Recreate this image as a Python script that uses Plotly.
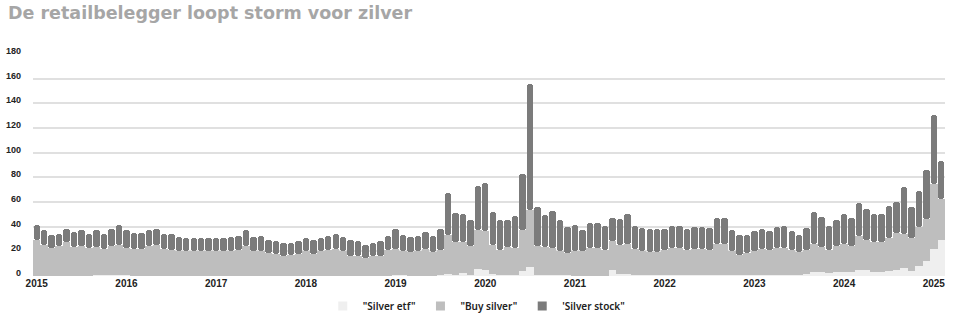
import numpy as np
import pandas as pd
import plotly.graph_objects as go

# Months Jan 2015 .. Feb 2025
months = pd.date_range("2015-01-01", periods=122, freq="MS")
year_labels = ["2015", "2016", "2017", "2018", "2019", "2020", "2021", "2022", "2023", "2024", "2025"]
y_ticks = [0, 20, 40, 60, 80, 100, 120, 140, 160, 180]

silver_etf = [0.3, 0.3, 0.3, 0.3, 0.3, 0.3, 0.3, 0.3, 0.5, 0.8, 0.5, 0.8,
              0.5, 0.3, 0.3, 0.3, 0.3, 0.3, 0.3, 0.3, 0.3, 0.3, 0.3, 0.3,
              0.3, 0.3, 0.3, 0.3, 0.3, 0.3, 0.3, 0.3, 0.3, 0.3, 0.3, 0.3,
              0.3, 0.3, 0.3, 0.3, 0.3, 0.3, 0.3, 0.3, 0.3, 0.3, 0.3, 0.3,
              1.0, 0.5, 0.3, 0.3, 0.3, 0.3, 0.5, 2.0, 1.0, 2.4, 1.0, 5.8,
              4.5, 1.6, 0.5, 0.5, 0.5, 3.8, 7.0, 1.0, 0.5, 1.0, 0.5, 0.5,
              0.3, 0.3, 0.3, 0.3, 0.3, 5.2, 2.0, 2.0, 0.5, 0.5, 0.5, 0.5,
              1.0, 0.5, 0.5, 0.5, 0.5, 0.5, 0.5, 0.8, 0.8, 0.5, 0.5, 0.5,
              0.5, 0.5, 0.8, 0.8, 0.5, 0.5, 0.5, 1.5, 3.5, 3.0, 2.5, 3.5,
              3.5, 3.5, 4.8, 4.5, 3.2, 3.2, 4.0, 5.0, 6.4, 3.7, 8.0, 11.8,
              21.9, 28.9]

buy_silver = [28.7, 25.2, 22.7, 23.7, 27.2, 23.2, 23.7, 22.7, 23.0, 20.7, 23.5, 24.7,
              22.5, 21.7, 21.7, 23.7, 25.2, 21.2, 20.7, 19.7, 19.7, 19.7, 19.7, 19.7,
              19.7, 19.7, 19.7, 20.7, 24.2, 19.7, 19.7, 18.4, 17.7, 16.2, 16.4, 17.7,
              19.7, 17.9, 19.7, 21.1, 21.7, 19.7, 16.2, 16.2, 14.3, 16.2, 16.2, 21.1,
              20.9, 19.5, 18.9, 19.7, 21.9, 18.9, 20.9, 31.5, 26.4, 25.0, 23.1, 31.8,
              31.8, 23.4, 20.9, 22.8, 22.3, 33.8, 46.8, 23.2, 22.8, 21.8, 19.6, 18.2,
              19.8, 19.8, 22.5, 22.5, 21.1, 23.3, 23.1, 23.6, 21.3, 19.5, 19.0, 19.0,
              20.4, 22.3, 22.3, 20.9, 21.5, 21.5, 20.9, 24.8, 24.8, 19.5, 16.8, 18.2,
              19.5, 21.5, 20.6, 22.2, 22.3, 20.5, 18.9, 19.5, 22.1, 20.4, 18.5, 20.6,
              22.1, 20.6, 27.4, 25.0, 24.1, 24.1, 26.8, 29.8, 27.9, 27.3, 32.0, 34.3,
              53.1, 33.6]

silver_stock = [12.5, 11.5, 10.0, 10.0, 10.5, 12.5, 13.0, 11.0, 13.5, 12.5, 14.0, 15.5,
                14.0, 13.0, 13.0, 13.0, 12.5, 12.5, 13.0, 11.5, 11.0, 11.0, 11.0, 11.0,
                11.0, 11.0, 12.0, 11.5, 12.5, 12.0, 12.5, 10.8, 10.7, 10.3, 10.1, 10.2,
                10.8, 10.8, 10.8, 11.3, 12.0, 11.6, 13.0, 11.7, 10.4, 10.3, 11.7, 11.2,
                16.4, 13.6, 12.4, 12.6, 13.4, 13.4, 16.9, 33.8, 23.6, 23.1, 21.5, 35.4,
                39.2, 26.9, 23.7, 21.8, 25.5, 45.3, 102.0, 31.4, 25.9, 30.2, 25.0, 20.9,
                21.2, 16.9, 20.5, 20.5, 18.9, 18.9, 21.4, 24.4, 18.5, 19.0, 18.7, 18.7,
                16.8, 18.1, 18.1, 16.8, 17.7, 17.7, 17.6, 21.4, 21.4, 17.6, 16.3, 14.9,
                16.3, 16.2, 15.4, 16.7, 18.1, 15.8, 14.2, 17.9, 26.0, 24.4, 19.8, 21.0,
                24.4, 22.9, 26.9, 24.8, 23.0, 23.0, 26.2, 24.8, 37.7, 24.9, 28.6, 40.1,
                55.7, 30.5]

series_names = ['"Silver etf"', '"Buy silver"', "'Silver stock\""]
colors = ["#efefef", "#bebebe", "#7b7b7b"]

x = np.arange(len(months))
etf = np.array(silver_etf)
buy = np.array(buy_silver)
stock = np.array(silver_stock)
year_pos = [int(np.where((months.year == int(y)) & (months.month == 1))[0][0]) for y in year_labels]

fig = go.Figure()
fig.add_trace(go.Bar(x=x, y=etf, base=np.zeros_like(etf), width=1.0,
                     marker=dict(color=colors[0], line=dict(width=0)), showlegend=False))
fig.add_trace(go.Bar(x=x, y=buy, base=etf, width=1.0,
                     marker=dict(color=colors[1], line=dict(width=0)), showlegend=False))
bottom = etf + buy
# dark segment drawn as two overlapping halves so both ends get rounded
fig.add_trace(go.Bar(x=x, y=stock * 0.75, base=bottom + stock * 0.25, width=0.86,
                     marker=dict(color=colors[2], line=dict(width=0), cornerradius=3), showlegend=False))
fig.add_trace(go.Bar(x=x, y=-stock * 0.75, base=bottom + stock * 0.75, width=0.86,
                     marker=dict(color=colors[2], line=dict(width=0), cornerradius=3), showlegend=False))

for name, c in zip(series_names, colors):
    fig.add_trace(go.Scatter(x=[None], y=[None], mode="markers", name=name,
                             marker=dict(symbol="square", size=9, color=c)))

fig.update_layout(
    width=972, height=322,
    barmode="overlay", bargap=0,
    paper_bgcolor="white", plot_bgcolor="white",
    margin=dict(l=33, r=27, t=54, b=46, autoexpand=False),
    title=dict(text="De retailbelegger loopt storm voor zilver",
               font=dict(family="DejaVu Sans", size=17.5, color="#a6a6a6", weight="bold"),
               x=8 / 972, xref="container", xanchor="left",
               y=1 - 12.5 / 322, yref="container", yanchor="middle"),
    legend=dict(orientation="h", x=0.49, xanchor="center", xref="container",
                y=1 - 306 / 322, yref="container", yanchor="middle",
                font=dict(family="Noto Sans", size=10, color="#222222", weight=600),
                itemwidth=30, tracegroupgap=0),
    xaxis=dict(range=[-0.5, len(months) - 0.5], tickmode="array",
               tickvals=year_pos, ticktext=year_labels, showgrid=False,
               zeroline=False, showline=False, ticks="",
               tickfont=dict(family="Liberation Sans", size=10, color="#222222", weight="bold")),
    yaxis=dict(range=[0, 180], tickmode="array", tickvals=y_ticks,
               ticktext=[str(v) for v in y_ticks],
               showgrid=True, gridcolor="#e0e0e0", gridwidth=1.5,
               zeroline=False, showline=False, ticks="",
               ticklabelstandoff=11, ticklabelshift=-3,
               tickfont=dict(family="Liberation Sans", size=9, color="#222222", weight="bold")),
)

fig.write_html("out.html")
